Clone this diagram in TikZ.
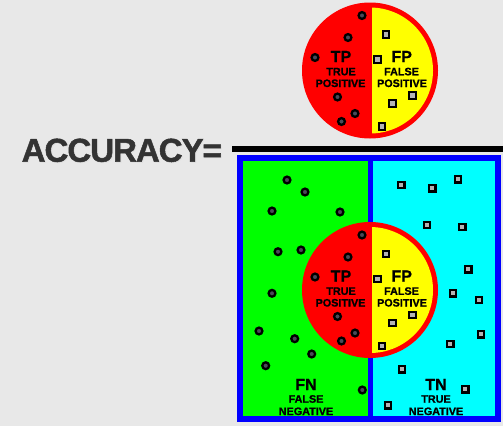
\documentclass[tikz,border=0pt]{standalone}
\usepackage{fontspec}
\setmainfont{Liberation Sans}[BoldFont={Liberation Sans Bold}]
\newfontfamily\heavy{Liberation Sans Bold}[FakeBold=1]
\newfontfamily\titlefont{Liberation Sans Bold}[FakeBold=1.5,LetterSpace=-3]
\definecolor{bg}{HTML}{E8E8E8}
\definecolor{txt}{HTML}{333333}
\definecolor{dotfill}{HTML}{4A4A58}
\definecolor{sqfill}{HTML}{B4B4B4}
\definecolor{cyn}{RGB}{0,255,255}
\definecolor{grn}{RGB}{0,255,0}
\definecolor{ylw}{RGB}{255,255,0}
\definecolor{rd}{RGB}{255,0,0}
\definecolor{blu}{RGB}{0,0,255}
\begin{document}
\begin{tikzpicture}[x=1pt,y=-1pt,
  dotc/.style={circle,draw=black,fill=dotfill,line width=2.3pt,minimum size=6.8pt,inner sep=0pt},
  dots/.style={rectangle,draw=black,fill=sqfill,line width=2.1pt,minimum size=6.3pt,inner sep=0pt},
  big/.style={font=\heavy\fontsize{16}{16}\selectfont,anchor=base,inner sep=0pt,text=black},
  small/.style={font=\heavy\fontsize{10.8}{11}\selectfont,anchor=base,inner sep=0pt,text=black},
  pcirc/.style={circle,fill=rd,minimum size=136pt,inner sep=0pt}]
\fill[bg] (0,0) rectangle (503,426);
\useasboundingbox (0,0) rectangle (503,426);

% title and fraction bar
\node[font=\titlefont\fontsize{33}{33}\selectfont,text=black!12,anchor=base west,inner sep=0pt] (accs) at (22.5,162.5) {ACCURACY=};
\node[font=\titlefont\fontsize{33}{33}\selectfont,text=txt,anchor=base west,inner sep=0pt] (acc) at (21.5,161.7) {ACCURACY=};
\coordinate (barL) at (232,149);
\coordinate (barR) at (503,149);
\draw[line width=6pt,black] (barL) -- (barR);

% bottom box
\fill[grn] (240,158) rectangle (370.5,419);
\fill[cyn] (370.5,158) rectangle (498,419);
\draw[blu,line width=5.7pt] (370.5,158) -- (370.5,419);
\draw[blu,line width=6pt] (240,158) rectangle (498,419);

% green dots
\foreach \p [count=\i] in {(287,180),(305,192),(272,211),(340,212),(278,251.7),(301,250),(272,293.3),(259,331),(294.7,338.7),(311.7,354),(265.7,365.7),(362.3,390)}
  \node[dotc] (g\i) at \p {};
% cyan squares
\foreach \p [count=\i] in {(401.3,185),(432.3,188.3),(458,179.3),(427,224.7),(462.3,226.7),(468.3,269.3),(452.7,293.3),(478.7,300),(481,334.3),(450.3,344),(401.7,369.3),(465.3,389.3),(388,405.3)}
  \node[dots] (c\i) at \p {};

% FN / TN labels
\node[big] (fn) at (306,390) {FN};
\node[small] (fn1) at (306,402.7) {FALSE};
\node[small] (fn2) at (306,415) {NEGATIVE};
\node[big] (tn) at (436,390) {TN};
\node[small] (tn1) at (436,402.7) {TRUE};
\node[small] (tn2) at (436,415) {NEGATIVE};

% the two circles
\foreach \cy/\nm in {70.5/top,290/bot}{
  \node[pcirc] (\nm) at (370,\cy) {};
  \begin{scope}
    \clip (372,\cy-70) rectangle (445,\cy+70);
    \fill[ylw] (\nm.center) circle (63pt);
  \end{scope}
  \begin{scope}[shift={(370,\cy)}]
    \foreach \p [count=\i] in {(-8,-55),(-22,-33),(-55,-13),(-32.5,26.5),(-15,43),(-28.5,51)}
      \node[dotc] (\nm d\i) at \p {};
    \foreach \p [count=\i] in {(16,-36),(7.5,-11),(42.5,25),(22.5,33),(12,56)}
      \node[dots] (\nm s\i) at \p {};
    \node[big] (\nm tp) at (-29,-8.5) {TP};
    \node[small] (\nm tp1) at (-29,4.8) {TRUE};
    \node[small] (\nm tp2) at (-29.5,16.5) {POSITIVE};
    \node[big] (\nm fp) at (31.7,-8.5) {FP};
    \node[small] (\nm fp1) at (31.5,4.8) {FALSE};
    \node[small] (\nm fp2) at (32,16.5) {POSITIVE};
  \end{scope}
}
\end{tikzpicture}
\end{document}
